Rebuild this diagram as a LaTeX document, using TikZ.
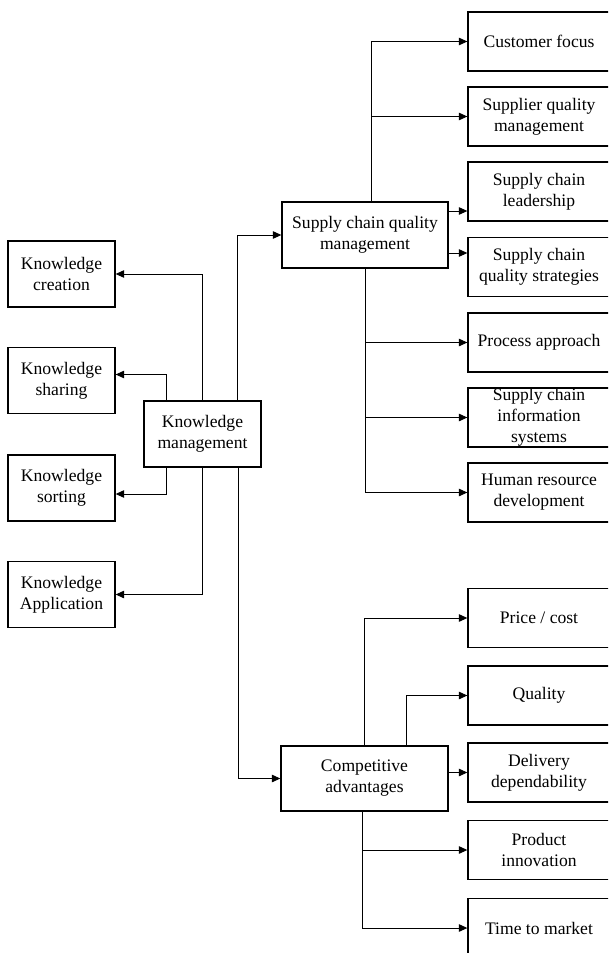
\documentclass[tikz,border=0pt]{standalone}
\usepackage{fontspec}
\setmainfont{Liberation Serif}
\usetikzlibrary{arrows.meta}
\begin{document}
\begin{tikzpicture}[x=1pt,y=-1pt,
  box/.style={draw,line width=1.3pt,inner sep=0pt,align=center,font=\fontsize{17.6}{21}\selectfont},
  lbox/.style={box,minimum width=107pt,minimum height=66pt},
  rbox/.style={box,minimum width=142pt,minimum height=59pt},
  txt/.style={inner sep=0pt,align=center,font=\fontsize{17.6}{21}\selectfont},
  arr/.style={line width=1pt,-{Triangle[length=8.5pt,width=7.5pt]}}]
\clip (0,0) rectangle (608,953);
% left boxes
\node[lbox] (creation) at (61.5,274) {Knowledge\\creation};
\node[lbox] (sharing) at (61.5,380.5) {Knowledge\\sharing};
\node[lbox] (sorting) at (61.5,488) {Knowledge\\sorting};
\node[lbox] (application) at (61.5,594.5) {Knowledge\\Application};
% central boxes
\node[box,minimum width=117pt,minimum height=66pt] (km) at (202.5,434) {Knowledge\\management};
\node[box,minimum width=166pt,minimum height=66pt] (scqm) at (365,235) {Supply chain quality\\management};
\node[box,minimum width=167pt,minimum height=65pt] (ca) at (364.5,778.5) {Competitive\\advantages};
% right boxes
\node[rbox] (customer) at (539,41.5) {Customer focus};
\node[rbox] (supplier) at (539,116.5) {Supplier quality\\management};
\node[rbox] (leadership) at (539,191.5) {Supply chain\\leadership};
\node[rbox] (strategies) at (539,267) {Supply chain\\quality strategies};
\node[rbox] (process) at (539,342.5) {Process approach};
\node[rbox] (info) at (539,417.5) {};
\node[txt] (infotext) at (info.center) {Supply chain\\information\\systems};
\node[rbox] (hr) at (539,492.5) {Human resource\\development};
\node[rbox] (price) at (539,618) {Price / cost};
\node[rbox] (quality) at (539,695.5) {Quality};
\node[rbox] (delivery) at (539,772.5) {Delivery\\dependability};
\node[rbox] (product) at (539,850) {Product\\innovation};
\node[rbox] (time) at (539,928) {Time to market};
% KM connectors
\draw[arr] (km.north) |- (creation.east);
\draw[arr] ([xshift=-36.5pt]km.north) |- ([yshift=6pt]sharing.east);
\draw[arr] ([xshift=-36.5pt]km.south) |- ([yshift=-6pt]sorting.east);
\draw[arr] (km.south) |- (application.east);
\draw[arr] ([xshift=-24pt]km.north east) |- (scqm.west);
\draw[arr] ([xshift=-23pt]km.south east) |- (ca.west);
% SCQM connectors
\draw[arr] ([xshift=6pt]scqm.north) |- (customer.west);
\draw[arr] ([xshift=6pt]scqm.north) |- (supplier.west);
\draw[arr] ([yshift=24pt]scqm.east) -- ([yshift=24pt]scqm.east -| leadership.west);
\draw[arr] ([yshift=-18pt]scqm.east) -- ([yshift=-18pt]scqm.east -| strategies.west);
\draw[arr] (scqm.south) |- (process.west);
\draw[arr] (scqm.south) |- (info.west);
\draw[arr] (scqm.south) |- (hr.west);
% CA connectors
\draw[arr] (ca.north) |- (price.west);
\draw[arr] ([xshift=41.5pt]ca.north) |- (quality.west);
\draw[arr] (delivery.west -| ca.east) -- (delivery.west);
\draw[arr] ([xshift=-2.5pt]ca.south) |- (product.west);
\draw[arr] ([xshift=-2.5pt]ca.south) |- (time.west);
\end{tikzpicture}
\end{document}
